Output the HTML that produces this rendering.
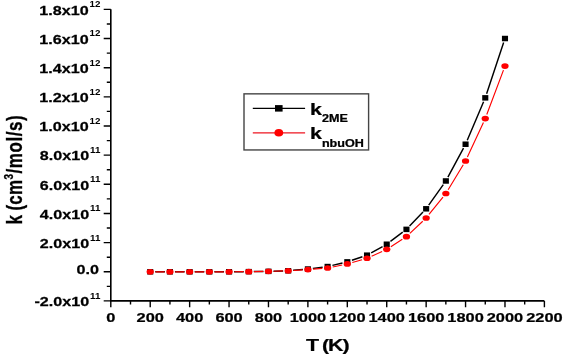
<!DOCTYPE html>
<html><head><meta charset="utf-8"><style>
html,body{margin:0;padding:0;background:#fff;width:563px;height:355px;overflow:hidden}
svg{position:absolute;left:0;top:0;display:block;will-change:transform}
text{font-family:"Liberation Sans",sans-serif;font-weight:bold;fill:#000;stroke:#000;stroke-width:0.25px}
.sup{stroke-width:0}
</style></head><body>
<svg width="563" height="355" viewBox="0 0 563 355">
<path d="M110.8,9.36 V300.9 H544.4" fill="none" stroke="#000" stroke-width="1.6"/>
<path d="M103.7,9.36H110.8 M106.8,23.94H110.8 M103.7,38.52H110.8 M106.8,53.10H110.8 M103.7,67.68H110.8 M106.8,82.26H110.8 M103.7,96.84H110.8 M106.8,111.42H110.8 M103.7,126.00H110.8 M106.8,140.58H110.8 M103.7,155.16H110.8 M106.8,169.74H110.8 M103.7,184.32H110.8 M106.8,198.90H110.8 M103.7,213.48H110.8 M106.8,228.06H110.8 M103.7,242.64H110.8 M106.8,257.22H110.8 M103.7,271.80H110.8 M106.8,286.38H110.8 M103.7,300.90H110.8 M110.80,300.9V307.3 M130.51,300.9V304.4 M150.22,300.9V307.3 M169.93,300.9V304.4 M189.64,300.9V307.3 M209.35,300.9V304.4 M229.05,300.9V307.3 M248.76,300.9V304.4 M268.47,300.9V307.3 M288.18,300.9V304.4 M307.89,300.9V307.3 M327.60,300.9V304.4 M347.31,300.9V307.3 M367.02,300.9V304.4 M386.73,300.9V307.3 M406.44,300.9V304.4 M426.15,300.9V307.3 M445.85,300.9V304.4 M465.56,300.9V307.3 M485.27,300.9V304.4 M504.98,300.9V307.3 M524.69,300.9V304.4 M544.40,300.9V307.3" stroke="#000" stroke-width="1.4"/>
<text transform="translate(110.80,321.9) scale(1.2133,1)" text-anchor="middle" font-size="13.5">0</text>
<text transform="translate(150.22,321.9) scale(1.2133,1)" text-anchor="middle" font-size="13.5">200</text>
<text transform="translate(189.64,321.9) scale(1.2133,1)" text-anchor="middle" font-size="13.5">400</text>
<text transform="translate(229.05,321.9) scale(1.2133,1)" text-anchor="middle" font-size="13.5">600</text>
<text transform="translate(268.47,321.9) scale(1.2133,1)" text-anchor="middle" font-size="13.5">800</text>
<text transform="translate(307.89,321.9) scale(1.2133,1)" text-anchor="middle" font-size="13.5">1000</text>
<text transform="translate(347.31,321.9) scale(1.2133,1)" text-anchor="middle" font-size="13.5">1200</text>
<text transform="translate(386.73,321.9) scale(1.2133,1)" text-anchor="middle" font-size="13.5">1400</text>
<text transform="translate(426.15,321.9) scale(1.2133,1)" text-anchor="middle" font-size="13.5">1600</text>
<text transform="translate(465.56,321.9) scale(1.2133,1)" text-anchor="middle" font-size="13.5">1800</text>
<text transform="translate(504.98,321.9) scale(1.2133,1)" text-anchor="middle" font-size="13.5">2000</text>
<text transform="translate(544.40,321.9) scale(1.2133,1)" text-anchor="middle" font-size="13.5">2200</text>
<text transform="translate(100.4,14.56) scale(1.196,1)" text-anchor="end" font-size="13.5">1.8x10<tspan class="sup" font-size="8.2" dx="0.7" dy="-7.3">12</tspan></text>
<text transform="translate(100.4,43.72) scale(1.196,1)" text-anchor="end" font-size="13.5">1.6x10<tspan class="sup" font-size="8.2" dx="0.7" dy="-7.3">12</tspan></text>
<text transform="translate(100.4,72.88) scale(1.196,1)" text-anchor="end" font-size="13.5">1.4x10<tspan class="sup" font-size="8.2" dx="0.7" dy="-7.3">12</tspan></text>
<text transform="translate(100.4,102.04) scale(1.196,1)" text-anchor="end" font-size="13.5">1.2x10<tspan class="sup" font-size="8.2" dx="0.7" dy="-7.3">12</tspan></text>
<text transform="translate(100.4,131.20) scale(1.196,1)" text-anchor="end" font-size="13.5">1.0x10<tspan class="sup" font-size="8.2" dx="0.7" dy="-7.3">12</tspan></text>
<text transform="translate(100.4,160.36) scale(1.196,1)" text-anchor="end" font-size="13.5">8.0x10<tspan class="sup" font-size="8.2" dx="0.7" dy="-7.3">11</tspan></text>
<text transform="translate(100.4,189.52) scale(1.196,1)" text-anchor="end" font-size="13.5">6.0x10<tspan class="sup" font-size="8.2" dx="0.7" dy="-7.3">11</tspan></text>
<text transform="translate(100.4,218.68) scale(1.196,1)" text-anchor="end" font-size="13.5">4.0x10<tspan class="sup" font-size="8.2" dx="0.7" dy="-7.3">11</tspan></text>
<text transform="translate(100.4,247.84) scale(1.196,1)" text-anchor="end" font-size="13.5">2.0x10<tspan class="sup" font-size="8.2" dx="0.7" dy="-7.3">11</tspan></text>
<text transform="translate(98.9,274.40) scale(1.196,1)" text-anchor="end" font-size="13.5">0.0</text>
<text transform="translate(100.4,306.16) scale(1.196,1)" text-anchor="end" font-size="13.5">-2.0x10<tspan class="sup" font-size="8.2" dx="0.7" dy="-7.3">11</tspan></text>
<text transform="translate(306,350.8) scale(1.26,1)" font-size="17">T<tspan x="12.8" letter-spacing="-0.9">(K)</tspan></text>
<text transform="translate(21.6,224.6) scale(1.26,1) rotate(-90)" font-size="17">k (<tspan letter-spacing="0.4">cm</tspan><tspan font-size="10" dy="-7" letter-spacing="0.4">3</tspan><tspan dy="7" letter-spacing="0.55">/mol/s)</tspan></text>
<path d="M155.22,271.80L164.93,271.80M174.93,271.80L184.64,271.80M194.64,271.80L204.35,271.80M214.35,271.80L224.05,271.80M234.05,271.76L243.76,271.69M253.76,271.58L263.47,271.44M273.47,271.21L283.18,270.93M293.15,270.34L302.92,269.47M312.84,268.41L322.66,267.17M332.41,265.41L342.50,263.02M351.94,260.31L362.38,256.76M371.19,252.86L382.56,246.56M390.45,241.44L402.72,232.18M409.57,226.10L423.01,212.09M428.70,205.20L443.30,184.58M447.91,177.14L463.51,148.05M467.25,140.27L483.59,101.82M486.62,93.82L503.64,42.57" fill="none" stroke="#000" stroke-width="1.45"/>
<rect x="147.17" y="269.05" width="6.1" height="5.5" fill="#000"/>
<rect x="166.88" y="269.05" width="6.1" height="5.5" fill="#000"/>
<rect x="186.59" y="269.05" width="6.1" height="5.5" fill="#000"/>
<rect x="206.30" y="269.05" width="6.1" height="5.5" fill="#000"/>
<rect x="226.00" y="269.05" width="6.1" height="5.5" fill="#000"/>
<rect x="245.71" y="268.90" width="6.1" height="5.5" fill="#000"/>
<rect x="265.42" y="268.61" width="6.1" height="5.5" fill="#000"/>
<rect x="285.13" y="268.03" width="6.1" height="5.5" fill="#000"/>
<rect x="304.84" y="266.28" width="6.1" height="5.5" fill="#000"/>
<rect x="324.55" y="263.80" width="6.1" height="5.5" fill="#000"/>
<rect x="344.26" y="259.14" width="6.1" height="5.5" fill="#000"/>
<rect x="363.97" y="252.43" width="6.1" height="5.5" fill="#000"/>
<rect x="383.68" y="241.49" width="6.1" height="5.5" fill="#000"/>
<rect x="403.39" y="226.62" width="6.1" height="5.5" fill="#000"/>
<rect x="423.10" y="206.06" width="6.1" height="5.5" fill="#000"/>
<rect x="442.80" y="178.22" width="6.1" height="5.5" fill="#000"/>
<rect x="462.51" y="141.48" width="6.1" height="5.5" fill="#000"/>
<rect x="482.22" y="95.11" width="6.1" height="5.5" fill="#000"/>
<rect x="501.93" y="35.77" width="6.1" height="5.5" fill="#000"/>
<path d="M155.52,271.80L164.63,271.80M175.23,271.80L184.34,271.80M194.94,271.80L204.05,271.80M214.65,271.80L223.75,271.80M234.35,271.76L243.46,271.69M254.06,271.58L263.17,271.44M273.77,271.21L282.89,270.94M293.47,270.47L302.61,269.93M313.16,269.18L322.33,268.44M332.73,266.95L342.18,264.99M352.29,262.49L362.04,259.68M371.62,256.16L382.12,251.43M390.84,246.70L402.32,239.31M409.84,233.44L422.74,221.22M428.99,214.46L443.01,197.05M448.15,189.72L463.27,164.78M467.39,157.05L483.44,122.51M486.78,114.54L503.47,70.10" fill="none" stroke="#f00" stroke-width="1.15"/>
<ellipse cx="150.22" cy="271.80" rx="3.65" ry="2.85" fill="#f00"/>
<ellipse cx="169.93" cy="271.80" rx="3.65" ry="2.85" fill="#f00"/>
<ellipse cx="189.64" cy="271.80" rx="3.65" ry="2.85" fill="#f00"/>
<ellipse cx="209.35" cy="271.80" rx="3.65" ry="2.85" fill="#f00"/>
<ellipse cx="229.05" cy="271.80" rx="3.65" ry="2.85" fill="#f00"/>
<ellipse cx="248.76" cy="271.65" rx="3.65" ry="2.85" fill="#f00"/>
<ellipse cx="268.47" cy="271.36" rx="3.65" ry="2.85" fill="#f00"/>
<ellipse cx="288.18" cy="270.78" rx="3.65" ry="2.85" fill="#f00"/>
<ellipse cx="307.89" cy="269.61" rx="3.65" ry="2.85" fill="#f00"/>
<ellipse cx="327.60" cy="268.01" rx="3.65" ry="2.85" fill="#f00"/>
<ellipse cx="347.31" cy="263.93" rx="3.65" ry="2.85" fill="#f00"/>
<ellipse cx="367.02" cy="258.24" rx="3.65" ry="2.85" fill="#f00"/>
<ellipse cx="386.73" cy="249.35" rx="3.65" ry="2.85" fill="#f00"/>
<ellipse cx="406.44" cy="236.66" rx="3.65" ry="2.85" fill="#f00"/>
<ellipse cx="426.15" cy="218.00" rx="3.65" ry="2.85" fill="#f00"/>
<ellipse cx="445.85" cy="193.51" rx="3.65" ry="2.85" fill="#f00"/>
<ellipse cx="465.56" cy="160.99" rx="3.65" ry="2.85" fill="#f00"/>
<ellipse cx="485.27" cy="118.56" rx="3.65" ry="2.85" fill="#f00"/>
<ellipse cx="504.98" cy="66.08" rx="3.65" ry="2.85" fill="#f00"/>
<rect x="244" y="93.85" width="124.6" height="56.1" fill="#fff" stroke="#444" stroke-width="1.4"/>
<path d="M252.8,108.4H305.1" stroke="#000" stroke-width="1.3"/>
<rect x="275" y="105.1" width="7.6" height="6.5" fill="#000"/>
<path d="M252.8,132.8H305.1" stroke="#ee1520" stroke-width="1.35"/>
<ellipse cx="278.8" cy="132.8" rx="4.4" ry="3.8" fill="#f00"/>
<text transform="translate(310,114.6) scale(1.26,1)" font-size="17">k<tspan font-size="10" dy="7.5">2ME</tspan></text>
<text transform="translate(310,139) scale(1.26,1)" font-size="17">k<tspan font-size="10" dy="7.5">nbuOH</tspan></text>
</svg>
</body></html>
